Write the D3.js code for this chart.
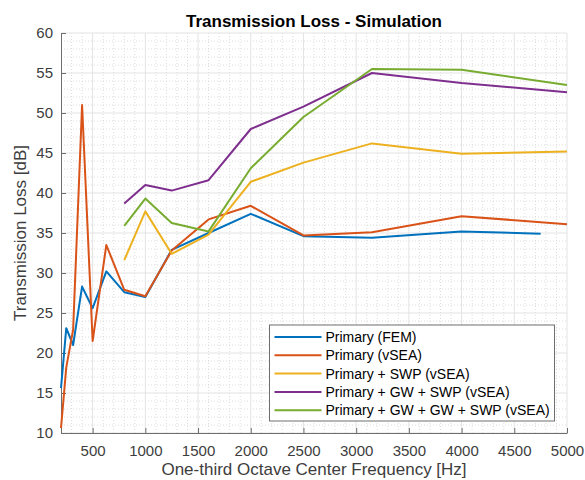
<!DOCTYPE html>
<html>
<head>
<meta charset="utf-8">
<script src="https://cdn.jsdelivr.net/npm/d3@7/dist/d3.min.js"></script>
<style>
  body { margin: 0; background: #fff; }
  svg { font-family: "Liberation Sans", Arial, sans-serif; }
</style>
</head>
<body>
<svg width="585" height="480"></svg>
<script>
// one-third octave bands
const freqs = [200, 250, 315, 400, 500, 630, 800, 1000, 1250, 1600, 2000, 2500, 3150, 4000, 5000];
const freqsFem = [200, 250, 315, 400, 500, 630, 800, 1000, 1250, 1600, 2000, 2500, 3150, 4000, 4750];
const freqsHi = [800, 1000, 1250, 1600, 2000, 2500, 3150, 4000, 5000];

const primaryFem = [15.6, 23.1, 21.0, 28.3, 25.6, 30.2, 27.6, 27.0, 32.9, 35.0, 37.4, 34.6, 34.4, 35.2, 34.9];
const primaryVsea = [10.6, 18.2, 22.9, 51.0, 21.5, 33.5, 27.9, 27.1, 32.8, 36.7, 38.4, 34.7, 35.1, 37.1, 36.1];
const primarySwp = [31.6, 37.7, 32.4, 34.8, 41.4, 43.8, 46.2, 44.9, 45.2];
const primaryGwSwp = [38.7, 41.0, 40.3, 41.6, 48.0, 50.8, 55.0, 53.75, 52.6];
const primaryGwGwSwp = [35.9, 39.3, 36.25, 35.2, 43.1, 49.5, 55.5, 55.4, 53.5];

const seriesNames = ["Primary (FEM)", "Primary (vSEA)", "Primary + SWP (vSEA)", "Primary + GW + SWP (vSEA)", "Primary + GW + GW + SWP (vSEA)"];
const colors = ["#0072BD", "#D95319", "#EDB120", "#7E2F8E", "#77AC30"];

const xTicks = [500, 1000, 1500, 2000, 2500, 3000, 3500, 4000, 4500, 5000];
const yTicks = [10, 15, 20, 25, 30, 35, 40, 45, 50, 55, 60];

const series = [
  { x: freqsFem, y: primaryFem },
  { x: freqs, y: primaryVsea },
  { x: freqsHi, y: primarySwp },
  { x: freqsHi, y: primaryGwSwp },
  { x: freqsHi, y: primaryGwGwSwp }
];

const margin = {top: 33, right: 18, bottom: 47, left: 61};
const svg = d3.select("svg");
const width = +svg.attr("width") - margin.left - margin.right;
const height = +svg.attr("height") - margin.top - margin.bottom;
const g = svg.append("g").attr("transform", "translate(" + margin.left + "," + margin.top + ")");

const x = d3.scaleLinear().domain([200, 5000]).range([0, width]);
const y = d3.scaleLinear().domain([10, 60]).range([height, 0]);

// minor grid
g.append("g").selectAll("line")
  .data(d3.range(300, 5000, 100).filter(d => d % 500 !== 0))
  .enter().append("line")
  .attr("x1", d => x(d)).attr("x2", d => x(d))
  .attr("y1", 0).attr("y2", height)
  .attr("stroke", "#d4d4d4").attr("stroke-width", 0.8).attr("stroke-dasharray", "1,2");
g.append("g").selectAll("line")
  .data(d3.range(11, 60, 1).filter(d => d % 5 !== 0))
  .enter().append("line")
  .attr("x1", 0).attr("x2", width)
  .attr("y1", d => y(d)).attr("y2", d => y(d))
  .attr("stroke", "#d4d4d4").attr("stroke-width", 0.8).attr("stroke-dasharray", "1,2");

// major grid
g.append("g").selectAll("line")
  .data(xTicks)
  .enter().append("line")
  .attr("x1", d => x(d)).attr("x2", d => x(d))
  .attr("y1", 0).attr("y2", height)
  .attr("stroke", "#e3e3e3").attr("stroke-width", 1);
g.append("g").selectAll("line")
  .data(yTicks)
  .enter().append("line")
  .attr("x1", 0).attr("x2", width)
  .attr("y1", d => y(d)).attr("y2", d => y(d))
  .attr("stroke", "#e3e3e3").attr("stroke-width", 1);

// axes
const xAxis = g.append("g")
  .attr("transform", "translate(0," + height + ")")
  .call(d3.axisBottom(x).tickValues(xTicks).tickFormat(d3.format("d")).tickSizeInner(-5).tickSizeOuter(0).tickPadding(12));
const yAxis = g.append("g")
  .call(d3.axisLeft(y).tickValues(yTicks).tickFormat(d3.format("d")).tickSizeInner(-5).tickSizeOuter(0).tickPadding(8));
[xAxis, yAxis].forEach(a => {
  a.select(".domain").attr("stroke", "#6e6e6e");
  a.selectAll(".tick line").attr("stroke", "#6e6e6e");
  a.selectAll(".tick text").attr("fill", "#3d3d3d").style("font-size", "15px");
});

// lines
const line = d3.line().x(d => x(d[0])).y(d => y(d[1]));
g.selectAll(".series")
  .data(series)
  .enter().append("path")
  .attr("class", "series")
  .attr("fill", "none")
  .attr("stroke", (d, i) => colors[i])
  .attr("stroke-width", 2)
  .attr("stroke-linejoin", "round")
  .attr("d", d => line(d.x.map((v, i) => [v, d.y[i]])));

// title and labels
svg.append("text")
  .attr("x", margin.left + width / 2).attr("y", 27)
  .attr("text-anchor", "middle")
  .style("font-size", "17px").style("font-weight", "bold")
  .attr("fill", "#000")
  .text("Transmission Loss - Simulation");
svg.append("text")
  .attr("x", margin.left + width / 2).attr("y", 475)
  .attr("text-anchor", "middle")
  .style("font-size", "17px")
  .attr("fill", "#3d3d3d")
  .text("One-third Octave Center Frequency [Hz]");
svg.append("text")
  .attr("transform", "translate(26," + (margin.top + height / 2) + ") rotate(-90)")
  .attr("text-anchor", "middle")
  .style("font-size", "17px")
  .attr("fill", "#3d3d3d")
  .text("Transmission Loss [dB]");

// legend
const legend = svg.append("g").attr("transform", "translate(269.5,325)");
legend.append("rect")
  .attr("width", 285).attr("height", 96)
  .attr("fill", "#fff").attr("stroke", "#6e6e6e").attr("stroke-width", 1);
const item = legend.selectAll(".item")
  .data(seriesNames)
  .enter().append("g")
  .attr("transform", (d, i) => "translate(0," + (12 + i * 18.3) + ")");
item.append("line")
  .attr("x1", 5).attr("x2", 52)
  .attr("stroke", (d, i) => colors[i]).attr("stroke-width", 2);
item.append("text")
  .attr("x", 56).attr("dy", "0.35em")
  .style("font-size", "14px").attr("fill", "#000")
  .text(d => d);
</script>
</body>
</html>
